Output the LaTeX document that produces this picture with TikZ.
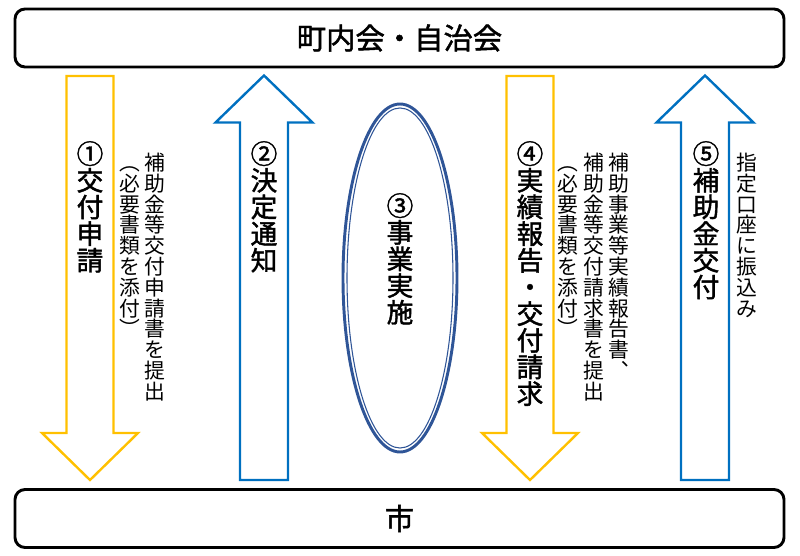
\documentclass[tikz,border=0pt]{standalone}
\usepackage{fontspec}
\newfontfamily\jp{Noto Sans CJK JP}
\newfontfamily\jpb[FakeBold=1.6]{Noto Sans CJK JP}
\definecolor{kiiro}{HTML}{FFC000}
\definecolor{ao}{HTML}{0070C0}
\definecolor{kon}{HTML}{2F5597}
% vertical text: one character per line, each in a 1em box
\makeatletter
\newcommand{\tate}[1]{\vbox{\offinterlineskip\@tfor\tate@c:=#1\do{\hbox to 1em{\hss\vrule width 0pt height .88em depth .12em\tate@c\hss}}}}
\makeatother
\tikzset{
  waku/.style={draw=black, line width=2.2pt, rounded corners=7.5pt, minimum width=576.75pt, minimum height=43.5pt,
    font=\jpb\fontsize{22}{22}\selectfont},
  kiiroya/.style={draw=kiiro, line width=1.8pt, line join=miter},
  aoya/.style={draw=ao, line width=1.8pt, line join=miter},
  midashi/.style={font=\jpb\fontsize{20}{20}\selectfont, inner sep=0pt, anchor=north},
  setsumei/.style={font=\jp\fontsize{15.6}{15.6}\selectfont, inner sep=0pt, anchor=north}
}

\begin{document}
\begin{tikzpicture}[x=0.75pt, y=-0.75pt]
    \useasboundingbox (0,0) rectangle (800,556);
    % boxes
    \node[waku] (jichikai) at (399.5,38) {町内会・自治会};
    \node[waku] (shi) at (399.5,518.5) {市};
    % block arrows
    \foreach \cx in {90,530}
        \draw[kiiroya] (\cx-23.5,76) -- (\cx+23.5,76) -- (\cx+23.5,433) -- (\cx+48,433)
            -- (\cx,480) -- (\cx-48,433) -- (\cx-23.5,433) -- cycle;
    \foreach \cx in {264,705}
        \draw[aoya] (\cx-24,480) -- (\cx+24,480) -- (\cx+24,122.5) -- (\cx+48.5,122.5)
            -- (\cx,75.5) -- (\cx-48.5,122.5) -- (\cx-24,122.5) -- cycle;
    % double ellipse
    \draw[kon, line width=2.2pt] (400,278) ellipse [x radius=57, y radius=174];
    \draw[kon, line width=0.8pt] (400,278) ellipse [x radius=53, y radius=170];
    % labels
    \node[midashi] (shinsei) at (90,140) {\tate{①交付申請}};
    \node[setsumei] (shinseisho) at (155,152) {\tate{補助金等交付申請書を提出}};
    \node[setsumei] (tenpu) at (130,152) {\tate{︵必要書類を添付︶}};
    \node[midashi] (kettei) at (264,140) {\tate{②決定通知}};
    \node[midashi] (jisshi) at (400,192) {\tate{③事業実施}};
    \node[midashi] (houkoku) at (530,140) {\tate{④実績報告・交付請求}};
    \node[setsumei] (houkokusho) at (619,152) {\tate{補助事業等実績報告書︑}};
    \node[setsumei] (seikyusho) at (594,152) {\tate{補助金等交付請求書を提出}};
    \node[setsumei] (tenpu2) at (568,152) {\tate{︵必要書類を添付︶}};
    \node[midashi] (koufu) at (706,140) {\tate{⑤補助金交付}};
    \node[setsumei] (furikomi) at (747,152) {\tate{指定口座に振込み}};
\end{tikzpicture}
\end{document}
